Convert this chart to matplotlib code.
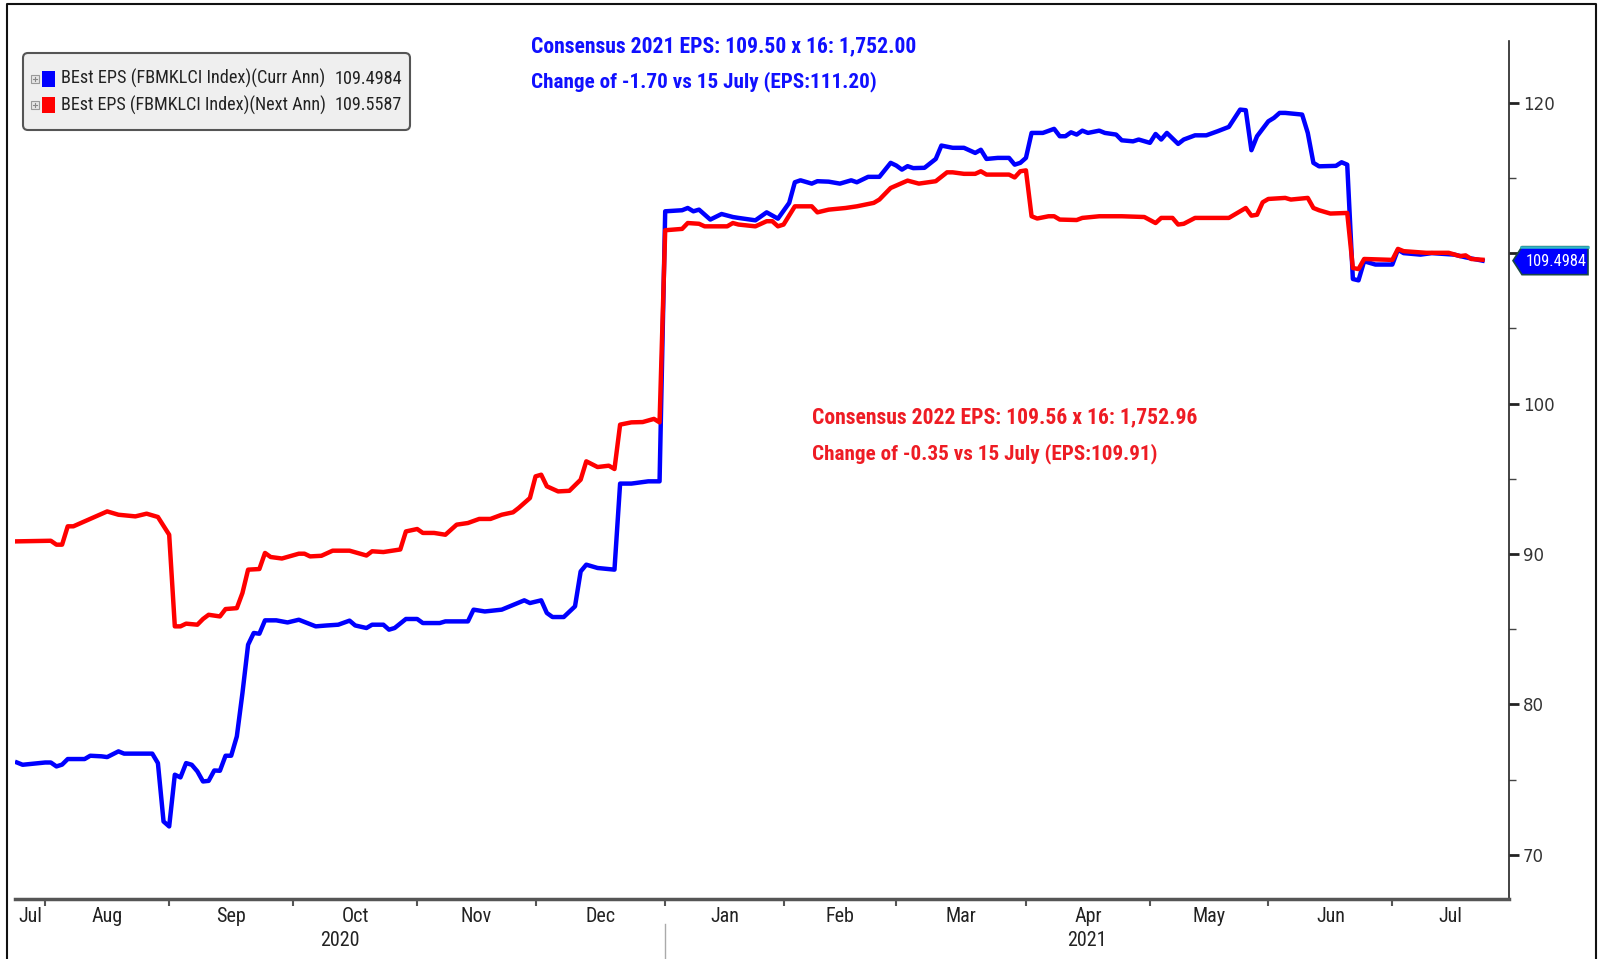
import numpy as np
import pandas as pd
import matplotlib
matplotlib.use("Agg")
import matplotlib.pyplot as plt
import matplotlib.transforms as mtransforms
from matplotlib import font_manager as fm
from matplotlib.patches import Polygon, FancyBboxPatch, Rectangle
from matplotlib.lines import Line2D

# BEst EPS (FBMKLCI Index), Curr Ann (FY2021)
curr_dates = [
    "2020-07-24", "2020-07-27", "2020-07-31", "2020-08-03", "2020-08-04", "2020-08-05",
    "2020-08-06", "2020-08-11", "2020-08-12", "2020-08-14", "2020-08-17", "2020-08-19",
    "2020-08-20", "2020-08-27", "2020-08-28", "2020-08-31", "2020-09-01", "2020-09-02",
    "2020-09-03", "2020-09-04", "2020-09-07", "2020-09-08", "2020-09-09", "2020-09-10",
    "2020-09-11", "2020-09-14", "2020-09-15", "2020-09-16", "2020-09-17", "2020-09-18",
    "2020-09-21", "2020-09-22", "2020-09-23", "2020-09-24", "2020-09-28", "2020-09-30",
    "2020-10-02", "2020-10-07", "2020-10-09", "2020-10-13", "2020-10-15", "2020-10-16",
    "2020-10-20", "2020-10-21", "2020-10-23", "2020-10-26", "2020-10-27", "2020-10-29",
    "2020-11-02", "2020-11-03", "2020-11-06", "2020-11-09", "2020-11-13", "2020-11-16",
    "2020-11-18", "2020-11-23", "2020-11-27", "2020-11-30", "2020-12-02", "2020-12-03",
    "2020-12-04", "2020-12-08", "2020-12-10", "2020-12-11", "2020-12-14", "2020-12-16",
    "2020-12-21", "2020-12-22", "2020-12-24", "2020-12-29", "2020-12-31", "2021-01-01",
    "2021-01-06", "2021-01-07", "2021-01-08", "2021-01-11", "2021-01-13", "2021-01-15",
    "2021-01-19", "2021-01-20", "2021-01-25", "2021-01-27", "2021-01-29", "2021-02-02",
    "2021-02-03", "2021-02-04", "2021-02-08", "2021-02-09", "2021-02-11", "2021-02-15",
    "2021-02-17", "2021-02-18", "2021-02-22", "2021-02-24", "2021-02-26", "2021-03-01",
    "2021-03-02", "2021-03-03", "2021-03-04", "2021-03-08", "2021-03-10", "2021-03-11",
    "2021-03-15", "2021-03-17", "2021-03-19", "2021-03-22", "2021-03-23", "2021-03-25",
    "2021-03-29", "2021-03-30", "2021-03-31", "2021-04-01", "2021-04-02", "2021-04-06",
    "2021-04-08", "2021-04-09", "2021-04-12", "2021-04-13", "2021-04-14", "2021-04-15",
    "2021-04-16", "2021-04-20", "2021-04-21", "2021-04-23", "2021-04-26", "2021-04-28",
    "2021-04-29", "2021-05-03", "2021-05-04", "2021-05-05", "2021-05-06", "2021-05-10",
    "2021-05-11", "2021-05-13", "2021-05-17", "2021-05-19", "2021-05-21", "2021-05-25",
    "2021-05-26", "2021-05-27", "2021-05-28", "2021-06-01", "2021-06-02", "2021-06-03",
    "2021-06-04", "2021-06-09", "2021-06-10", "2021-06-11", "2021-06-14", "2021-06-17",
    "2021-06-18", "2021-06-21", "2021-06-22", "2021-06-23", "2021-06-24", "2021-06-28",
    "2021-07-01", "2021-07-02", "2021-07-05", "2021-07-08", "2021-07-12", "2021-07-16",
    "2021-07-20", "2021-07-23",
]
curr_eps = [
    76.14, 75.99, 76.14, 76.14, 75.88, 76.00,
    76.37, 76.37, 76.59, 76.55, 76.50, 76.88,
    76.73, 76.73, 76.10, 72.22, 71.89, 75.33,
    75.15, 76.10, 75.99, 75.55, 74.88, 74.92,
    75.61, 75.59, 76.59, 76.59, 77.87, 80.76,
    83.97, 84.75, 84.70, 85.59, 85.59, 85.45,
    85.63, 85.19, 85.25, 85.30, 85.57, 85.25,
    85.08, 85.30, 85.30, 84.97, 85.08, 85.68,
    85.68, 85.41, 85.41, 85.52, 85.52, 86.30,
    86.18, 86.30, 86.92, 86.74, 86.92, 86.08,
    85.81, 85.81, 86.52, 88.84, 89.29, 89.07,
    88.96, 94.68, 94.68, 94.83, 94.83, 112.78,
    112.85, 113.00, 112.78, 112.89, 112.23, 112.60,
    112.40, 112.34, 112.18, 112.71, 112.29, 113.34,
    114.71, 114.84, 114.62, 114.78, 114.75, 114.62,
    114.84, 114.71, 115.07, 115.07, 116.00, 115.82,
    115.55, 115.78, 115.65, 115.67, 116.26, 117.15,
    117.00, 117.00, 116.66, 116.87, 116.26, 116.33,
    116.33, 115.88, 116.00, 116.33, 117.99, 117.99,
    118.26, 117.77, 117.77, 118.03, 117.88, 118.14,
    117.99, 118.14, 117.99, 117.88, 117.50, 117.43,
    117.55, 117.33, 117.92, 117.55, 117.99, 117.26,
    117.55, 117.83, 117.83, 118.10, 118.39, 119.54,
    119.50, 116.84, 117.77, 118.76, 118.99, 119.32,
    119.32, 119.21, 117.99, 116.00, 115.77, 115.80,
    116.04, 115.88, 108.28, 108.19, 109.46, 109.24,
    109.24, 110.23, 110.00, 109.90, 110.00, 109.90,
    109.72, 109.4984,
]

# BEst EPS (FBMKLCI Index), Next Ann (FY2022)
next_dates = [
    "2020-07-24", "2020-08-03", "2020-08-04", "2020-08-05", "2020-08-06", "2020-08-07",
    "2020-08-13", "2020-08-17", "2020-08-19", "2020-08-24", "2020-08-26", "2020-08-28",
    "2020-09-01", "2020-09-02", "2020-09-03", "2020-09-04", "2020-09-08", "2020-09-09",
    "2020-09-10", "2020-09-14", "2020-09-15", "2020-09-17", "2020-09-18", "2020-09-21",
    "2020-09-23", "2020-09-24", "2020-09-25", "2020-09-29", "2020-10-02", "2020-10-05",
    "2020-10-06", "2020-10-08", "2020-10-12", "2020-10-15", "2020-10-20", "2020-10-21",
    "2020-10-23", "2020-10-28", "2020-10-29", "2020-11-02", "2020-11-03", "2020-11-05",
    "2020-11-09", "2020-11-11", "2020-11-13", "2020-11-17", "2020-11-19", "2020-11-23",
    "2020-11-25", "2020-11-26", "2020-11-30", "2020-12-01", "2020-12-02", "2020-12-03",
    "2020-12-07", "2020-12-09", "2020-12-11", "2020-12-14", "2020-12-16", "2020-12-18",
    "2020-12-21", "2020-12-22", "2020-12-24", "2020-12-28", "2020-12-30", "2020-12-31",
    "2021-01-01", "2021-01-06", "2021-01-07", "2021-01-11", "2021-01-12", "2021-01-18",
    "2021-01-19", "2021-01-20", "2021-01-25", "2021-01-27", "2021-01-28", "2021-01-29",
    "2021-02-01", "2021-02-03", "2021-02-08", "2021-02-09", "2021-02-11", "2021-02-16",
    "2021-02-18", "2021-02-23", "2021-02-24", "2021-02-26", "2021-03-03", "2021-03-05",
    "2021-03-10", "2021-03-12", "2021-03-15", "2021-03-17", "2021-03-19", "2021-03-22",
    "2021-03-23", "2021-03-29", "2021-03-30", "2021-03-31", "2021-04-01", "2021-04-02",
    "2021-04-05", "2021-04-07", "2021-04-08", "2021-04-09", "2021-04-14", "2021-04-15",
    "2021-04-20", "2021-04-26", "2021-04-30", "2021-05-04", "2021-05-05", "2021-05-07",
    "2021-05-10", "2021-05-11", "2021-05-13", "2021-05-21", "2021-05-25", "2021-05-26",
    "2021-05-27", "2021-05-28", "2021-05-31", "2021-06-01", "2021-06-04", "2021-06-07",
    "2021-06-10", "2021-06-11", "2021-06-14", "2021-06-16", "2021-06-21", "2021-06-22",
    "2021-06-23", "2021-06-24", "2021-07-01", "2021-07-02", "2021-07-05", "2021-07-09",
    "2021-07-15", "2021-07-19", "2021-07-20", "2021-07-21", "2021-07-23",
]
next_eps = [
    90.84, 90.88, 90.62, 90.62, 91.84, 91.84,
    92.50, 92.83, 92.61, 92.50, 92.68, 92.46,
    91.28, 85.19, 85.19, 85.37, 85.30, 85.68,
    85.96, 85.85, 86.34, 86.40, 87.41, 88.96,
    89.00, 90.07, 89.80, 89.70, 90.02, 90.02,
    89.84, 89.88, 90.22, 90.22, 89.90, 90.18,
    90.13, 90.30, 91.50, 91.66, 91.40, 91.40,
    91.28, 91.95, 92.06, 92.33, 92.33, 92.61,
    92.77, 93.06, 93.72, 95.16, 95.27, 94.50,
    94.16, 94.20, 94.94, 96.16, 95.78, 95.87,
    95.65, 98.60, 98.75, 98.77, 98.98, 98.75,
    111.52, 111.61, 112.00, 111.95, 111.78, 111.78,
    112.00, 111.90, 111.78, 112.12, 112.12, 111.78,
    111.90, 113.11, 113.11, 112.71, 112.89, 113.00,
    113.11, 113.34, 113.56, 114.33, 114.82, 114.62,
    114.78, 115.37, 115.37, 115.27, 115.27, 115.44,
    115.22, 115.22, 115.03, 115.44, 115.50, 112.45,
    112.30, 112.45, 112.45, 112.23, 112.20, 112.34,
    112.45, 112.45, 112.40, 112.00, 112.34, 112.34,
    111.90, 111.95, 112.34, 112.34, 112.78, 113.00,
    112.49, 112.55, 113.38, 113.60, 113.67, 113.56,
    113.67, 113.00, 112.85, 112.63, 112.67, 109.01,
    108.94, 109.61, 109.55, 110.28, 110.13, 110.02,
    110.02, 109.80, 109.85, 109.61, 109.5587,
]

curr_label = "BEst EPS (FBMKLCI Index)(Curr Ann)"
next_label = "BEst EPS (FBMKLCI Index)(Next Ann)"
curr_last = "109.4984"
next_last = "109.5587"

note_2021 = ["Consensus 2021 EPS: 109.50 x 16: 1,752.00",
             "Change of -1.70 vs 15 July (EPS:111.20)"]
note_2022 = ["Consensus 2022 EPS: 109.56 x 16: 1,752.96",
             "Change of -0.35 vs 15 July (EPS:109.91)"]

month_starts = pd.date_range("2020-08-01", "2021-07-01", freq="MS")
month_names = ["Jul", "Aug", "Sep", "Oct", "Nov", "Dec", "Jan",
               "Feb", "Mar", "Apr", "May", "Jun", "Jul"]
year_names = ["2020", "2021"]
y_ticks = [70, 80, 90, 100, 110, 120]
y_labels = ["70", "80", "90", "100", "", "120"]  # 110 sits under the value tag
y_minor = [75, 85, 95, 105, 115]

BASE = "2020-08-03"


def trading_pos(dates):
    # Bloomberg plots by trading day, so weekends take no room
    d = np.array(pd.to_datetime(dates).values.astype("datetime64[D]"))
    return np.busday_count(np.datetime64(BASE), d)


def pick_font(bold=False):
    # a narrow face like the terminal font, if one is around
    wanted = "bold" if bold else "normal"
    ents = fm.fontManager.ttflist
    for name in ["Roboto Condensed", "Liberation Sans Narrow", "DejaVu Sans"]:
        for f in ents:
            w = f.weight if isinstance(f.weight, int) else (700 if f.weight == "bold" else 400)
            if f.name == name and "ondensed" in (f.fname + f.stretch) \
                    and f.style == "normal" and (w >= 600) == bold:
                return fm.FontProperties(fname=f.fname)
        for f in ents:
            w = f.weight if isinstance(f.weight, int) else (700 if f.weight == "bold" else 400)
            if f.name == name and name != "DejaVu Sans" and f.style == "normal" \
                    and (w >= 600) == bold:
                return fm.FontProperties(fname=f.fname)
    return fm.FontProperties(family="Roboto", weight=wanted)


NARROW = pick_font()
NARROW_B = pick_font(bold=True)
W, H = 1601, 959

fig = plt.figure(figsize=(W / 100, H / 100), dpi=100)
ax = fig.add_axes([15.3 / W, 60.5 / H, (1509 - 15.3) / W, (898.5 - 41) / H])
renderer = fig.canvas.get_renderer()


def fit(t, width):
    w = t.get_window_extent(renderer).width
    t.set_fontsize(t.get_fontsize() * width / w)


x_curr = trading_pos(curr_dates)
x_next = trading_pos(next_dates)
ax.plot(x_curr, curr_eps, color="#0000ff", lw=3.2, solid_joinstyle="round")
ax.plot(x_next, next_eps, color="#ff0000", lw=3.2, solid_joinstyle="round")

x_lo, x_hi = -6.3, 258.7
ax.set_xlim(x_lo, x_hi)
ax.set_ylim(67.1, 124.1)

for s in ["top", "left"]:
    ax.spines[s].set_visible(False)
ax.spines["right"].set_color("#222222")
ax.spines["right"].set_linewidth(1.2)
ax.spines["bottom"].set_color("#555555")
ax.spines["bottom"].set_linewidth(2.5)

# y axis on right
ax.yaxis.tick_right()
ax.set_yticks(y_ticks)
ax.set_yticklabels(y_labels)
ax.set_yticks(y_minor, minor=True)
ax.tick_params(axis="y", which="major", direction="out", length=7, width=2,
               color="#222222", pad=3, labelsize=12, labelcolor="#333333")
ax.tick_params(axis="y", which="minor", direction="out", length=5, width=1,
               color="#444444")

# x axis: month boundaries as ticks, names centred between them
bounds = list(trading_pos(month_starts))
ax.set_xticks(bounds)
ax.set_xticklabels([])
edges = [x_lo] + bounds + [x_hi]
mids = [(a + b) / 2 for a, b in zip(edges[:-1], edges[1:])]
ax.set_xticks(mids, minor=True)
ax.set_xticklabels(month_names, minor=True, fontproperties=NARROW, color="#222222")
for lab in ax.get_xticklabels(minor=True):
    lab.set_fontsize(14.5)
ax.tick_params(axis="x", which="major", direction="out", length=5, width=1.5,
               color="#555555")
ax.tick_params(axis="x", which="minor", length=0, pad=6)

jan = trading_pos(["2021-01-01"])[0]
year_mids = [(x_lo + jan) / 2, (jan + x_hi) / 2]
xt = ax.get_xaxis_transform()
for xm, yr in zip(year_mids, year_names):
    ax.text(xm, -0.049, yr, transform=xt, ha="center", va="center",
            fontproperties=NARROW, fontsize=14.5, color="#222222")
ax.plot([jan, jan], [-0.03, -0.07], transform=xt, color="#aaaaaa", lw=1,
        clip_on=False)

ident = mtransforms.IdentityTransform()

# last-value tag on the right axis
yc = ax.transData.transform((0, float(curr_last)))[1]
x0 = ax.transAxes.transform((1, 0))[0]
tag = Polygon([(x0 + 4, yc), (x0 + 13, yc + 14), (x0 + 79, yc + 14),
               (x0 + 79, yc - 14), (x0 + 13, yc - 14)], closed=True,
              fc="#0000ff", ec="#1a4848", lw=1.2, transform=ident)
fig.add_artist(tag)
fig.add_artist(Line2D([x0 + 12, x0 + 79], [yc + 13.5, yc + 13.5], color="#30b8c8",
                      lw=1.8, transform=ident))
t = fig.text(x0 + 47, yc - 1, curr_last, transform=ident, ha="center", va="center",
             fontproperties=NARROW, fontsize=12, color="white")
fit(t, 61)

# legend box
fig.add_artist(FancyBboxPatch((23, H - 130), 387, 77,
                              boxstyle="round,pad=0,rounding_size=5",
                              fc="#efefef", ec="#555555", lw=1.5,
                              transform=ident))
rows = [(78.6, "#0000ff", curr_label, curr_last),
        (105.0, "#ff0000", next_label, next_last)]
for ypx, col, lab, val in rows:
    yy = H - ypx
    fig.add_artist(Rectangle((31, yy - 4), 8, 8, fc="#e6e6e6", ec="#999999",
                             lw=0.8, transform=ident))
    fig.add_artist(Line2D([33, 37], [yy, yy], color="#888888", lw=0.8,
                          transform=ident))
    fig.add_artist(Line2D([35, 35], [yy - 2, yy + 2], color="#888888", lw=0.8,
                          transform=ident))
    fig.add_artist(Rectangle((42, yy - 8), 13, 16, fc=col, ec="none",
                             transform=ident))
    t1 = fig.text(61, yy, lab, transform=ident, ha="left", va="center",
                  fontproperties=NARROW, fontsize=12, color="#222222")
    fit(t1, 263 if col == "#0000ff" else 265)
    t2 = fig.text(402, yy, val, transform=ident, ha="right", va="center",
                  fontproperties=NARROW, fontsize=t1.get_fontsize(), color="#222222")

# consensus notes
widths = [386, 345]
for i, line in enumerate(note_2021):
    t = fig.text(531, H - (46 + 35.5 * i), line, transform=ident, ha="left",
                 va="center", fontproperties=NARROW_B, fontsize=16, color="#1010ff")
    fit(t, widths[i])
for i, line in enumerate(note_2022):
    t = fig.text(812, H - (417.6 + 35.7 * i), line, transform=ident, ha="left",
                 va="center", fontproperties=NARROW_B, fontsize=16, color="#ee1c24")
    fit(t, widths[i])

# outer frame
fig.add_artist(Line2D([7, 7, W - 5, W - 5], [0, H - 4, H - 4, 0],
                      color="#111111", lw=1.5, transform=ident))

fig.savefig("out.png", dpi=100)
